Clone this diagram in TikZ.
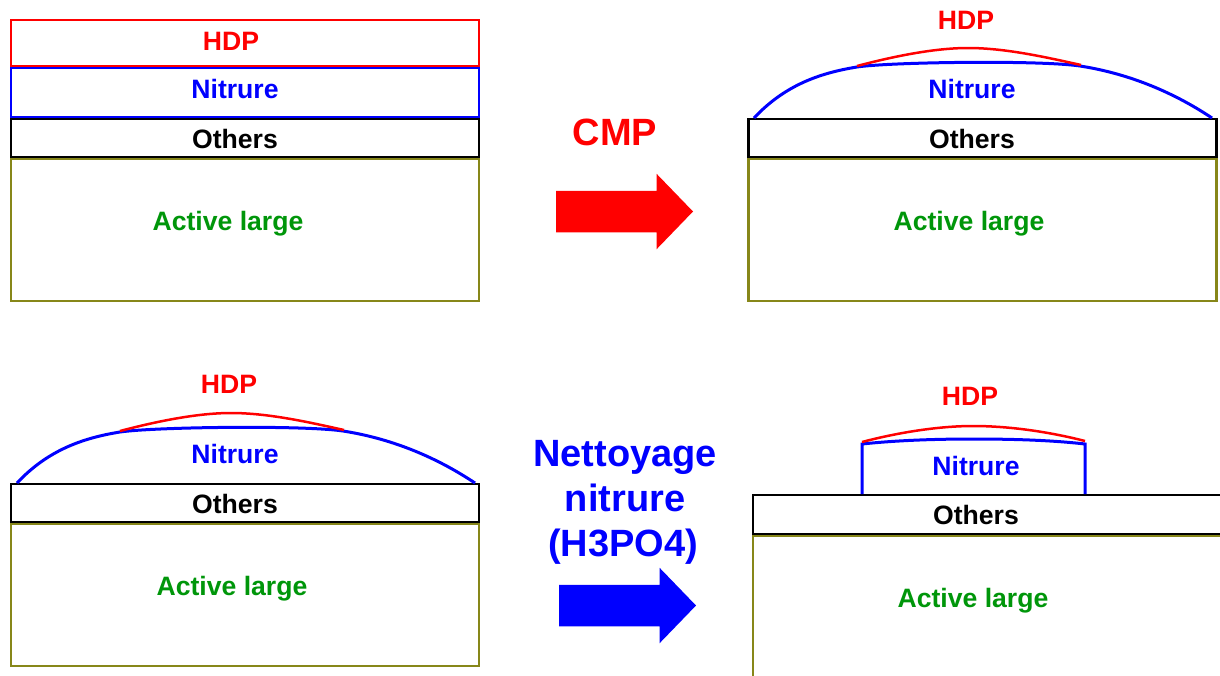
\documentclass[tikz,border=0pt]{standalone}
\usepackage{fontspec}
\setmainfont{Liberation Sans}
\usepackage{tikz}
\usetikzlibrary{shapes.arrows}

\definecolor{hdpred}{RGB}{255,0,0}
\definecolor{nitblue}{RGB}{0,0,255}
\definecolor{actgreen}{RGB}{0,150,10}
\definecolor{actolive}{RGB}{135,135,25}

\begin{document}
\begin{tikzpicture}[x=1pt,y=-1pt,line width=2.5pt,font=\fontsize{26.6}{30}\selectfont\bfseries]

    \tikzstyle{layer}=[draw,rectangle,inner sep=0pt,minimum width=468pt]
    \tikzstyle{hdp}=[layer,draw=hdpred,minimum height=46pt]
    \tikzstyle{nit}=[layer,draw=nitblue,minimum height=49pt]
    \tikzstyle{oth}=[layer,draw=black,minimum height=38pt]
    \tikzstyle{act}=[layer,draw=actolive,minimum height=142pt]
    \tikzstyle{hdptext}=[text=hdpred,inner sep=0pt]
    \tikzstyle{nittext}=[text=nitblue,inner sep=0pt]
    \tikzstyle{othtext}=[text=black,inner sep=0pt]
    \tikzstyle{acttext}=[text=actgreen,inner sep=0pt]
    \tikzstyle{hdpline}=[draw=hdpred]
    \tikzstyle{nitline}=[draw=nitblue,line width=3pt]
    \tikzstyle{bigarrow}=[single arrow,single arrow head extend=17pt,single arrow tip angle=92,text height=39pt,text depth=0pt,minimum height=137pt,inner sep=0pt,outer sep=0pt,anchor=tip]
    \tikzstyle{bigtext}=[inner sep=0pt,font=\fontsize{38}{44}\selectfont\bfseries]

    \useasboundingbox (0,0) rectangle (1220,675);

    % top left
    \node[act] (actA) at (245,230)   {};
    \node[hdp] (hdpA) at (245,43)    {};
    \node[nit] (nitA) at (245,92.5)  {};
    \node[oth] (othA) at (245,138)   {};
    \node[hdptext] (hdpAt) at (231,41)  {HDP};
    \node[nittext] (nitAt) at (235,89)  {Nitrure};
    \node[othtext] (othAt) at (235,139) {Others};
    \node[acttext] (actAt) at (228,224) {Active large};

    % top right
    \node[act] (actB) at (982.5,230) {};
    \node[oth] (othB) at (982.5,138) {};
    \node[hdptext] (hdpBt) at (966,20)  {HDP};
    \node[nittext] (nitBt) at (972,89)  {Nitrure};
    \node[othtext] (othBt) at (972,139) {Others};
    \node[acttext] (actBt) at (969,224) {Active large};
    \draw[nitline] (754,118) .. controls (785,85) and (820,73) .. (857,67)
                   .. controls (890,62) and (1040,60) .. (1080,66)
                   .. controls (1125,73) and (1170,90) .. (1212,118);
    \draw[hdpline] (857,66) .. controls (895,56) and (935,48) .. (968,48)
                   .. controls (1005,48) and (1045,57) .. (1081,65);

    % bottom left
    \node[act] (actC) at (245,595)   {};
    \node[oth] (othC) at (245,503)   {};
    \node[hdptext] (hdpCt) at (229,384) {HDP};
    \node[nittext] (nitCt) at (235,454) {Nitrure};
    \node[othtext] (othCt) at (235,504) {Others};
    \node[acttext] (actCt) at (232,589) {Active large};
    \draw[nitline] (17,483) .. controls (48,450) and (83,438) .. (120,432)
                   .. controls (153,427) and (303,425) .. (343,431)
                   .. controls (388,438) and (433,455) .. (475,483);
    \draw[hdpline] (120,431) .. controls (158,421) and (198,413) .. (231,413)
                   .. controls (268,413) and (308,422) .. (344,430);

    % bottom right
    \node[act,minimum height=146pt] (actD) at (987,609) {};
    \node[oth,minimum height=39pt] (othD) at (987,514.5) {};
    \node[hdptext] (hdpDt) at (970,396) {HDP};
    \node[nittext] (nitDt) at (976,466) {Nitrure};
    \node[othtext] (othDt) at (976,515) {Others};
    \node[acttext] (actDt) at (973,601) {Active large};
    \draw[nitline] (862,494) -- (862,444) .. controls (900,440) and (940,439) .. (973,439)
                   .. controls (1010,439) and (1050,440) .. (1085,444) -- (1085,494);
    \draw[hdpline] (862,442) .. controls (900,432) and (940,426) .. (973,426)
                   .. controls (1010,426) and (1050,432) .. (1085,441);

    % arrows
    \node[bigarrow,fill=hdpred] (cmparrow) at (693,211.5) {};
    \node[bigtext,text=hdpred] (cmp) at (615,132) {CMP};
    \node[bigarrow,fill=nitblue] (nitarrow) at (696,605.5) {};
    \node[bigtext,text=nitblue] (net1) at (625,457) {Nettoyage};
    \node[bigtext,text=nitblue] (net2) at (625,498) {nitrure};
    \node[bigtext,text=nitblue] (net3) at (623,547) {(H3PO4)};

\end{tikzpicture}
\end{document}
